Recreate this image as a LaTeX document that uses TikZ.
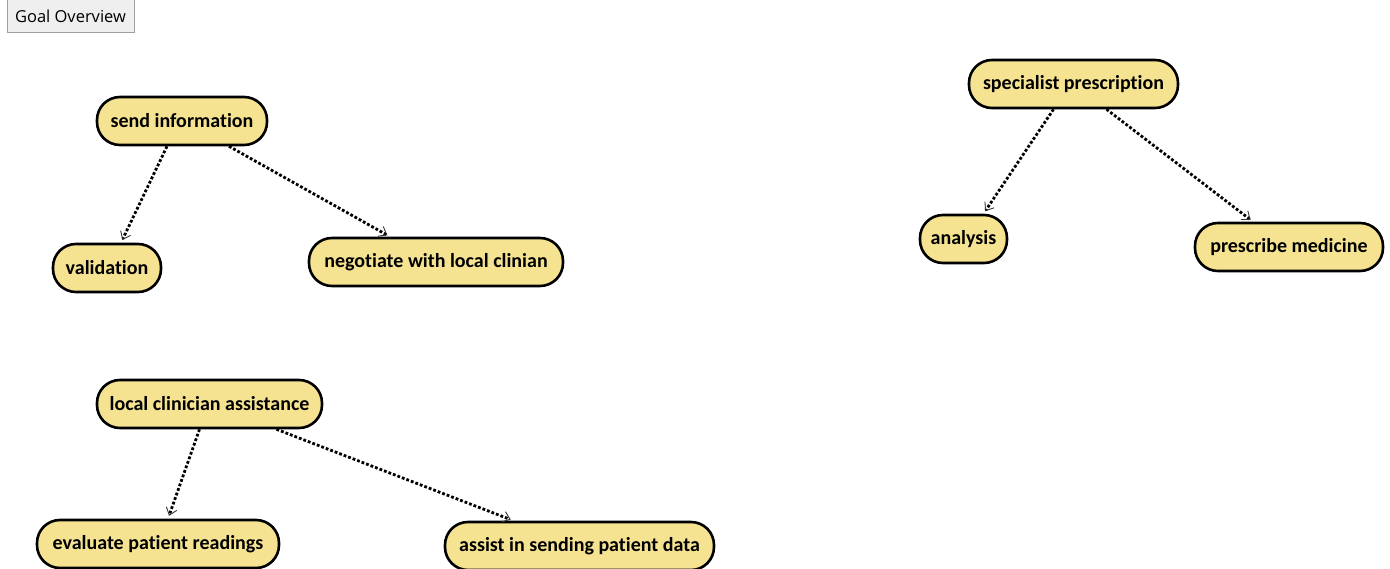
\documentclass[tikz,border=0pt]{standalone}
\usepackage{fontspec}
\setmainfont[Ligatures=NoCommon]{Carlito}
\newfontfamily\btnfont{Open Sans}
\usetikzlibrary{arrows.meta}
\definecolor{goalfill}{HTML}{F5E391}
\definecolor{btnfill}{HTML}{EFEFEF}
\definecolor{btnline}{HTML}{A0A0A0}
\tikzset{
  goal/.style={draw=black, line width=2.6pt, fill=goalfill, rounded corners=23pt,
    minimum height=48pt, inner sep=0pt, font=\fontsize{20}{22}\selectfont\bfseries},
  edge/.style={line width=2.8pt, dotted, line cap=butt, shorten >=3pt,
    -{Straight Barb[length=7pt, width=11pt, line width=0.9pt, color=black!80]}},
  btn/.style={draw=btnline, line width=1pt, fill=btnfill, inner sep=0pt,
    minimum width=127pt, minimum height=33pt, font=\btnfont\fontsize{16.5}{18}\selectfont}
}
\begin{document}
\begin{tikzpicture}[x=1pt, y=-1pt]
\useasboundingbox (0,0) rectangle (1390,569);
\node[btn] (btn) at (70.5,16.5) {Goal Overview};
\node[goal, minimum width=170pt] (si) at (182,121) {send information};
\node[goal, minimum width=108pt] (val) at (107,268) {validation};
\node[goal, minimum width=254pt] (neg) at (436,262) {negotiate with local clinian};
\node[goal, minimum width=209pt] (sp) at (1073.5,84) {specialist prescription};
\node[goal, minimum width=87pt] (an) at (963.5,239) {analysis};
\node[goal, minimum width=188pt] (pm) at (1289,247) {prescribe medicine};
\node[goal, minimum width=225pt] (lca) at (209.5,404) {local clinician assistance};
\node[goal, minimum width=242pt] (ev) at (158,544) {evaluate patient readings};
\node[goal, minimum width=269pt] (as) at (579.5,546) {assist in sending patient data};
\draw[edge] ([xshift=-15pt]si.south) -- ([xshift=14pt]val.north);
\draw[edge] ([xshift=47pt]si.south) -- ([xshift=-46pt]neg.north);
\draw[edge] ([xshift=-20pt]sp.south) -- ([xshift=20pt]an.north);
\draw[edge] ([xshift=33pt]sp.south) -- ([xshift=-36pt]pm.north);
\draw[edge] ([xshift=-10pt]lca.south) -- ([xshift=10pt]ev.north);
\draw[edge] ([xshift=67pt]lca.south) -- ([xshift=-66pt]as.north);
\end{tikzpicture}
\end{document}
